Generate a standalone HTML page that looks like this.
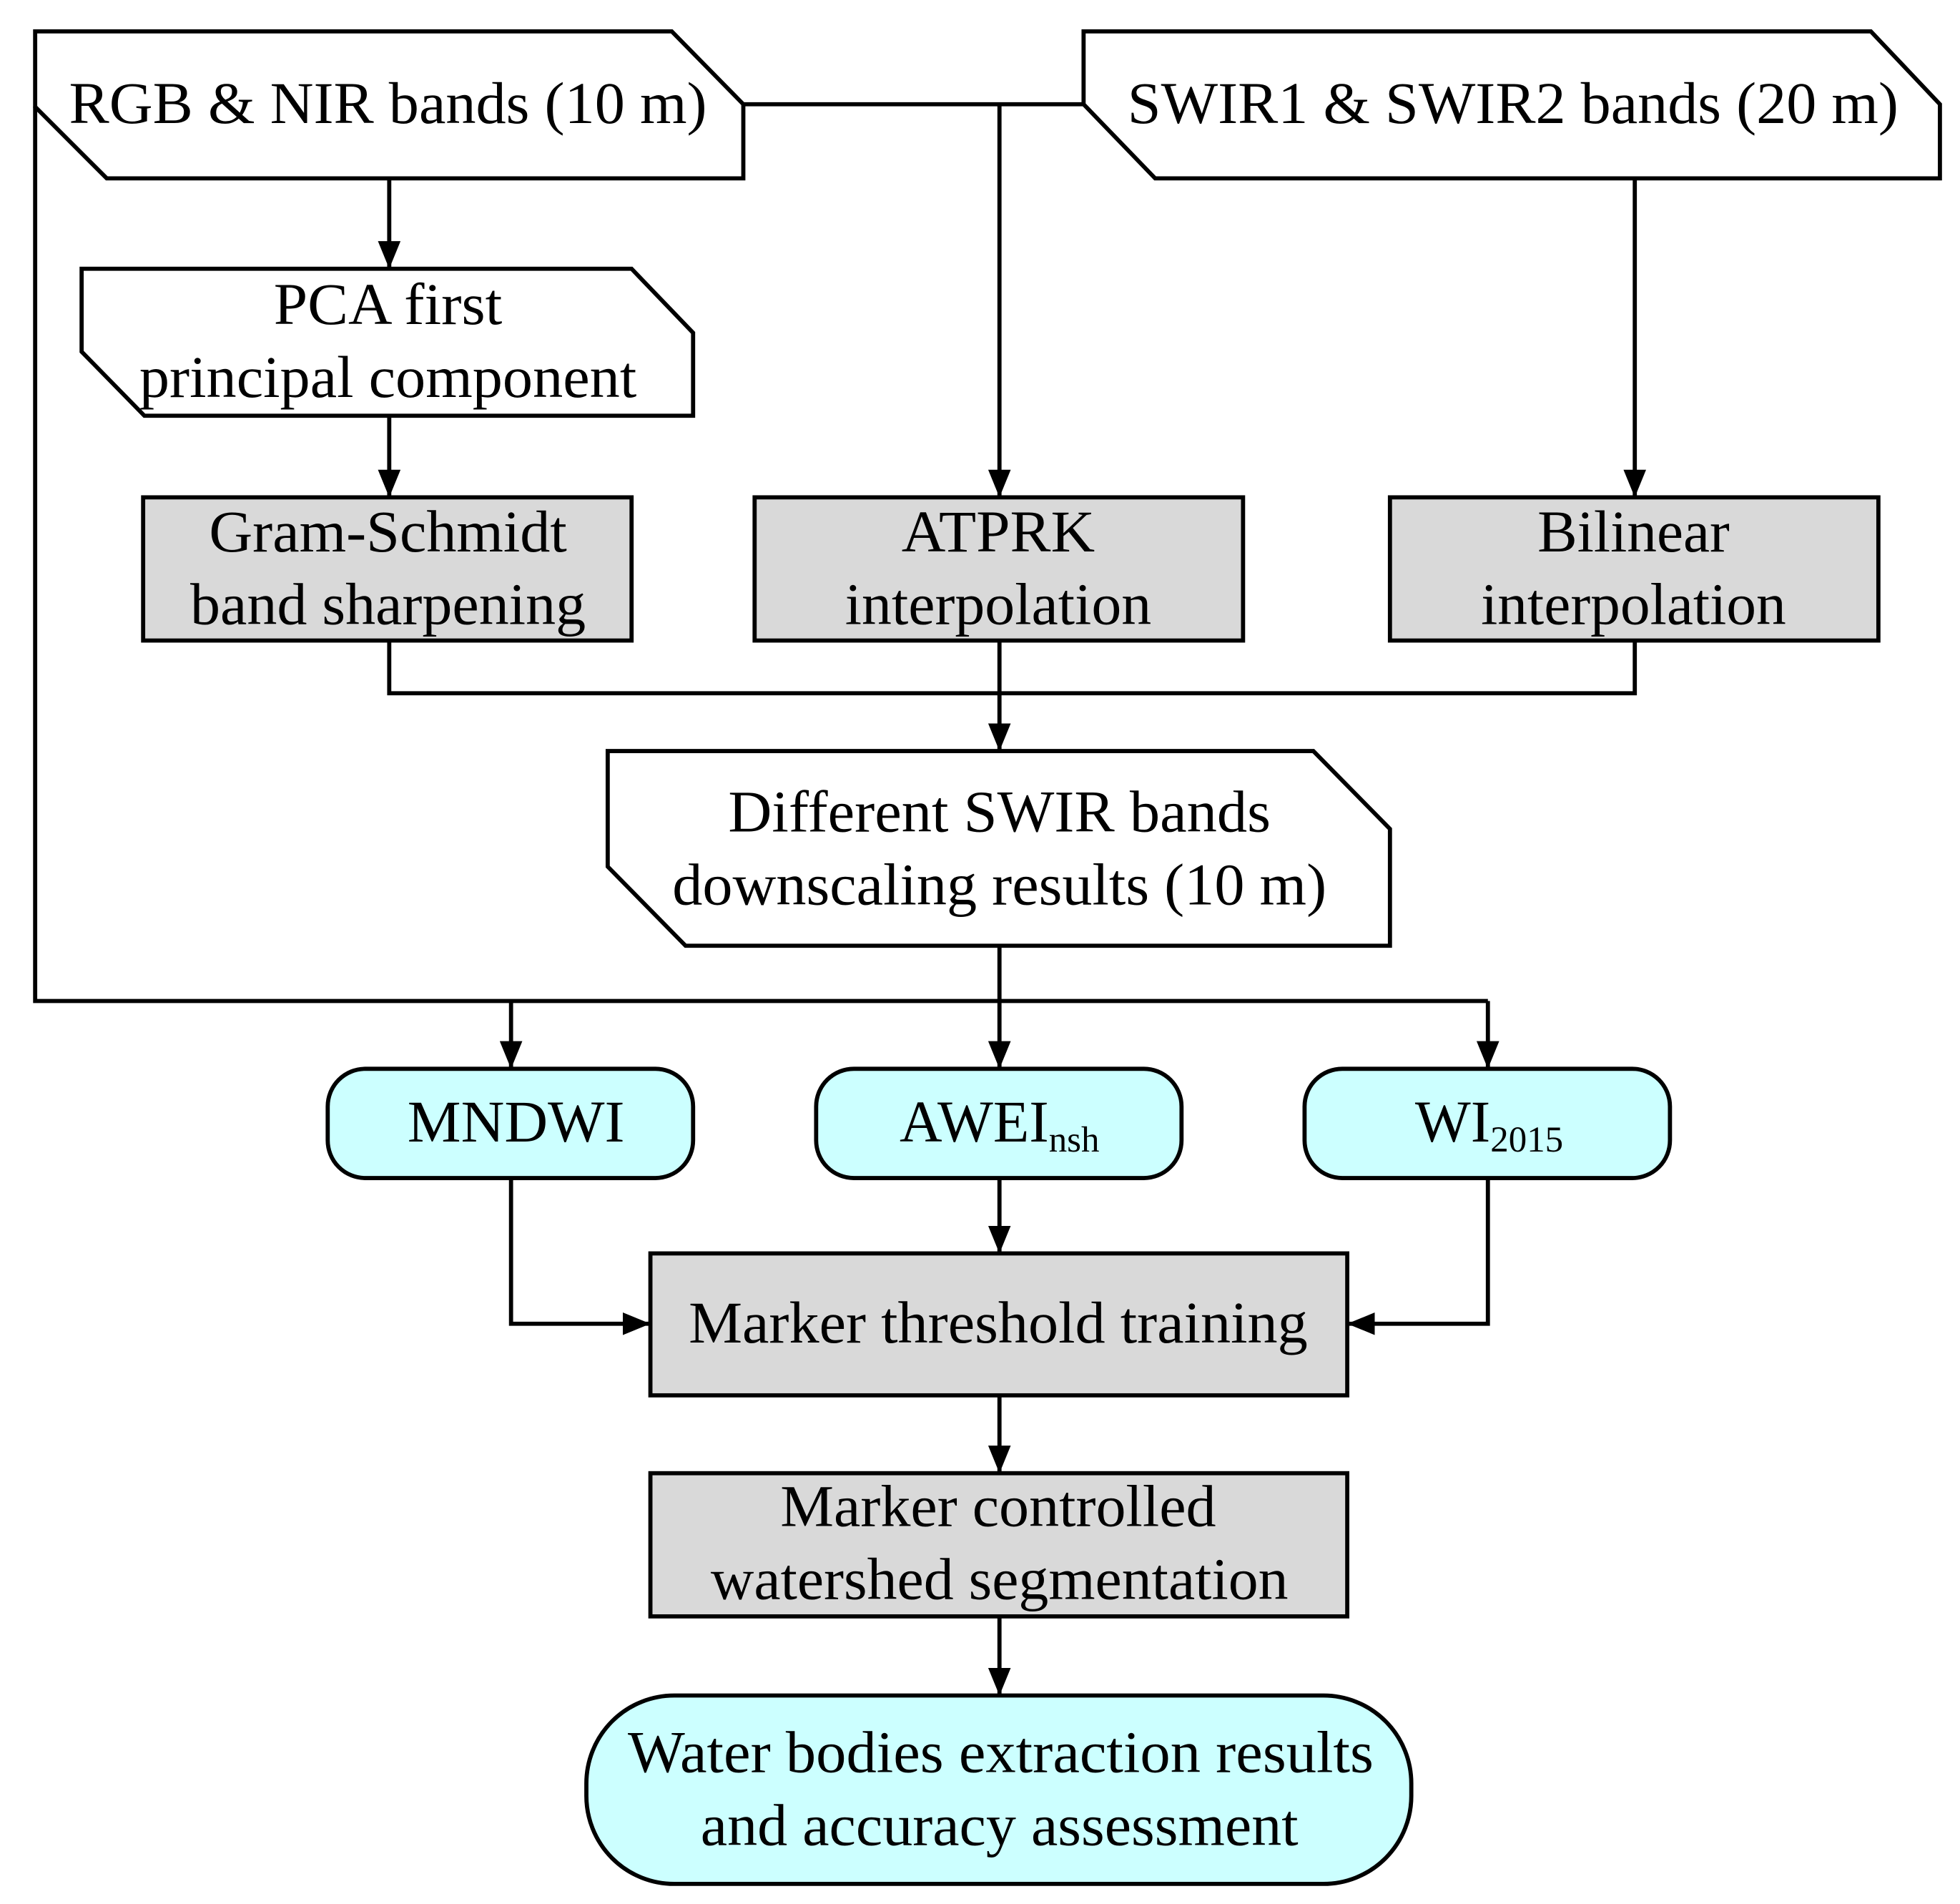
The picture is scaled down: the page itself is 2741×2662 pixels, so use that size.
<!DOCTYPE html>
<html><head><meta charset="utf-8"><style>
html,body{margin:0;padding:0;background:#fff;}
svg{display:block;}
text{font-family:"Liberation Serif",serif;font-size:47px;fill:#000;text-anchor:middle;}
</style></head><body>
<svg width="2741" height="2662" viewBox="0 0 1561 1516" xmlns="http://www.w3.org/2000/svg">
<defs>
<marker id="a" viewBox="0 0 22 18" refX="22" refY="9" markerWidth="22" markerHeight="18" markerUnits="userSpaceOnUse" orient="auto">
<path d="M0,0 L22,9 L0,18 z" fill="#000"/></marker>
</defs>
<g fill="none" stroke="#000" stroke-width="3.3">
<polyline points="28,85 28,797 1185,797"/>
<line x1="592" y1="83" x2="863" y2="83"/>
<line x1="796" y1="83" x2="796" y2="396" marker-end="url(#a)"/>
<line x1="1302" y1="142" x2="1302" y2="396" marker-end="url(#a)"/>
<line x1="310" y1="142" x2="310" y2="214" marker-end="url(#a)"/>
<line x1="310" y1="331" x2="310" y2="396" marker-end="url(#a)"/>
<polyline points="310,510 310,552 1302,552 1302,510"/>
<line x1="796" y1="510" x2="796" y2="598" marker-end="url(#a)"/>
<line x1="796" y1="753" x2="796" y2="851" marker-end="url(#a)"/>
<line x1="407" y1="797" x2="407" y2="851" marker-end="url(#a)"/>
<line x1="1185" y1="797" x2="1185" y2="851" marker-end="url(#a)"/>
<polyline points="407,938 407,1054 518,1054" marker-end="url(#a)"/>
<line x1="796" y1="938" x2="796" y2="998" marker-end="url(#a)"/>
<polyline points="1185,938 1185,1054 1073,1054" marker-end="url(#a)"/>
<line x1="796" y1="1111" x2="796" y2="1173" marker-end="url(#a)"/>
<line x1="796" y1="1287" x2="796" y2="1350" marker-end="url(#a)"/>
<polygon fill="#fff" points="28,25 535,25 592,83 592,142 85,142 28,85"/>
<polygon fill="#fff" points="863,25 1490,25 1545,83 1545,142 920,142 863,83"/>
<polygon fill="#fff" points="65,214 503,214 552,265 552,331 115,331 65,280"/>
<rect x="114" y="396" width="389" height="114" fill="#d9d9d9"/>
<rect x="601" y="396" width="389" height="114" fill="#d9d9d9"/>
<rect x="1107" y="396" width="389" height="114" fill="#d9d9d9"/>
<polygon fill="#fff" points="484,598 1046,598 1107,660 1107,753 546,753 484,690"/>
<rect x="261" y="851" width="291" height="87" rx="30" fill="#ccffff"/>
<rect x="650" y="851" width="291" height="87" rx="30" fill="#ccffff"/>
<rect x="1039" y="851" width="291" height="87" rx="30" fill="#ccffff"/>
<rect x="518" y="998" width="555" height="113" fill="#d9d9d9"/>
<rect x="518" y="1173" width="555" height="114" fill="#d9d9d9"/>
<rect x="467" y="1350" width="657" height="150" rx="70" fill="#ccffff"/>
</g>
<g>
<text x="309" y="98" textLength="508" lengthAdjust="spacingAndGlyphs">RGB &amp; NIR bands (10 m)</text>
<text x="1205" y="98" textLength="614" lengthAdjust="spacingAndGlyphs">SWIR1 &amp; SWIR2 bands (20 m)</text>
<text x="309" y="258" textLength="182" lengthAdjust="spacingAndGlyphs">PCA first</text>
<text x="309" y="316" textLength="396" lengthAdjust="spacingAndGlyphs">principal component</text>
<text x="309" y="439" textLength="285" lengthAdjust="spacingAndGlyphs">Gram-Schmidt</text>
<text x="309" y="497" textLength="315" lengthAdjust="spacingAndGlyphs">band sharpening</text>
<text x="795" y="439" textLength="154" lengthAdjust="spacingAndGlyphs">ATPRK</text>
<text x="795" y="497" textLength="244" lengthAdjust="spacingAndGlyphs">interpolation</text>
<text x="1301" y="439" textLength="153" lengthAdjust="spacingAndGlyphs">Bilinear</text>
<text x="1301" y="497" textLength="243" lengthAdjust="spacingAndGlyphs">interpolation</text>
<text x="796" y="662" textLength="432" lengthAdjust="spacingAndGlyphs">Different SWIR bands</text>
<text x="796" y="720" textLength="521" lengthAdjust="spacingAndGlyphs">downscaling results (10 m)</text>
<text x="411" y="909" textLength="173" lengthAdjust="spacingAndGlyphs">MNDWI</text>
<text x="796" y="909">AWEI<tspan font-size="29" dy="8">nsh</tspan></text>
<text x="1186" y="909">WI<tspan font-size="29" dy="8">2015</tspan></text>
<text x="795" y="1069" textLength="493" lengthAdjust="spacingAndGlyphs">Marker threshold training</text>
<text x="795" y="1215" textLength="347" lengthAdjust="spacingAndGlyphs">Marker controlled</text>
<text x="796" y="1273" textLength="460" lengthAdjust="spacingAndGlyphs">watershed segmentation</text>
<text x="797" y="1411" textLength="594" lengthAdjust="spacingAndGlyphs">Water bodies extraction results</text>
<text x="796" y="1469" textLength="476" lengthAdjust="spacingAndGlyphs">and accuracy assessment</text>
</g>
</svg>
</body></html>
